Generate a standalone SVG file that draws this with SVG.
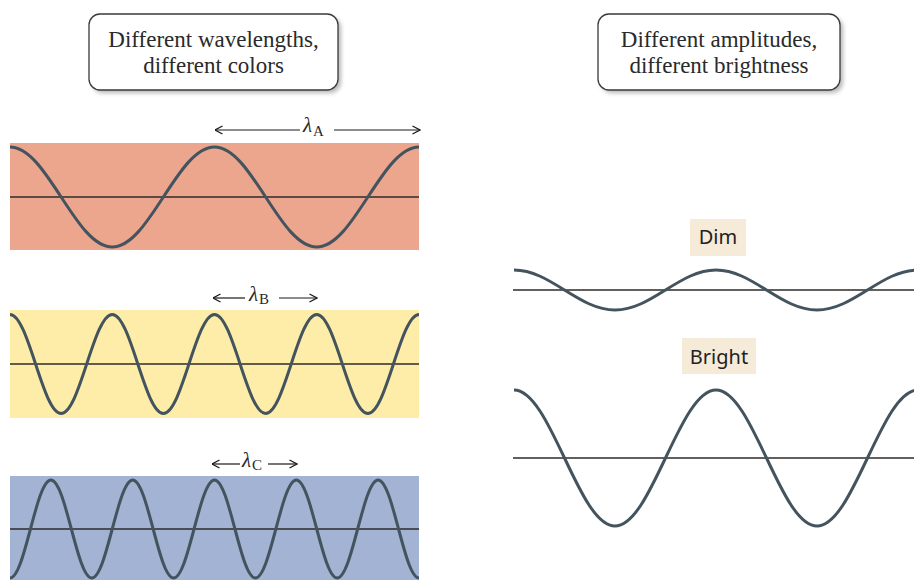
<svg xmlns="http://www.w3.org/2000/svg" width="914" height="580" viewBox="0 0 914 580">
<defs>
<style>
.title{font-family:"Liberation Serif","Times New Roman",serif;font-size:23px;fill:#2a2a2a;text-anchor:middle}
.lam{font-family:"Liberation Serif","Times New Roman",serif;font-size:21px;font-style:italic;fill:#2a2a2a}
.sub{font-style:normal;font-size:15px}
.lbl{font-family:"Noto Sans","Open Sans",sans-serif;font-size:20px;fill:#222;text-anchor:middle}
.box{fill:#fff;stroke:#3a3a3a;stroke-width:1.3}
.wave{fill:none;stroke:#43545f;stroke-width:3}
.axis{stroke:#2e2a2a;stroke-width:1.5}
.dim{stroke:#1a1a1a;stroke-width:1.2;fill:none}
.lblbg{fill:#f6ebd8}
</style>
<filter id="sh" x="-10%" y="-20%" width="130%" height="150%">
<feGaussianBlur stdDeviation="2"/>
</filter>
<marker id="arr" viewBox="0 0 10 10" refX="9.5" refY="5" markerWidth="10" markerHeight="10" markerUnits="userSpaceOnUse" orient="auto-start-reverse">
<path d="M2,1 L9.5,5 L2,9" fill="none" stroke="#1a1a1a" stroke-width="1.3"/>
</marker>
</defs>
<rect width="914" height="580" fill="#fff"/>

<g id="title-wavelengths">
<rect x="92" y="17" width="249" height="76" rx="11" fill="#888" opacity="0.6" filter="url(#sh)"/>
<rect class="box" x="89" y="14" width="249" height="76" rx="11"/>
<text class="title" x="213.5" y="47">Different wavelengths,</text>
<text class="title" x="213.5" y="73">different colors</text>
</g>

<g id="title-amplitudes">
<rect x="601" y="17" width="242" height="76" rx="11" fill="#888" opacity="0.6" filter="url(#sh)"/>
<rect class="box" x="598" y="14" width="242" height="76" rx="11"/>
<text class="title" x="719" y="47">Different amplitudes,</text>
<text class="title" x="719" y="73">different brightness</text>
</g>

<g id="panel-a">
<rect x="10" y="143" width="409" height="107" fill="#eda68e"/>
<line class="axis" x1="10" y1="197" x2="419" y2="197"/>
<path class="wave" d="M10,147 C47.22,147 75.03,247 112.25,247 S177.28,147 214.5,147 S279.53,247 316.75,247 S381.78,147 419,147"/>
<text class="lam" x="303" y="132">λ<tspan class="sub" dx="1" dy="4">A</tspan></text>
</g>

<g id="panel-b">
<rect x="10" y="310" width="409" height="108" fill="#fdeda8"/>
<line class="axis" x1="10" y1="364" x2="419" y2="364"/>
<path class="wave" d="M10,314.5 C28.61,314.5 42.52,413.5 61.13,413.5 S93.64,314.5 112.25,314.5 S144.77,413.5 163.38,413.5 S195.89,314.5 214.5,314.5 S247.02,413.5 265.63,413.5 S298.14,314.5 316.75,314.5 S349.27,413.5 367.88,413.5 S400.39,314.5 419,314.5"/>
<text class="lam" x="249" y="301">λ<tspan class="sub" dx="1" dy="3">B</tspan></text>
</g>

<g id="panel-c">
<rect x="10" y="476" width="409" height="104" fill="#a3b3d3"/>
<line class="axis" x1="10" y1="529" x2="419" y2="529"/>
<path class="wave" d="M10,578 C24.89,578 36.01,480 50.9,480 S76.91,578 91.8,578 S117.81,480 132.7,480 S158.71,578 173.6,578 S199.61,480 214.5,480 S240.51,578 255.4,578 S281.41,480 296.3,480 S322.31,578 337.2,578 S363.21,480 378.1,480 S404.11,578 419,578"/>
<text class="lam" x="242" y="467">λ<tspan class="sub" dx="1" dy="3">C</tspan></text>
</g>

<g id="dim">
<rect class="lblbg" x="690" y="219" width="56" height="37"/>
<text class="lbl" x="718" y="244">Dim</text>
<line class="axis" x1="513" y1="290" x2="914" y2="290"/>
<path class="wave" d="M514,270 C550.76,270 578.24,310 615,310 S679.24,270 716,270 S780.24,310 817,310 S881.24,270 918,270"/>
</g>

<g id="bright">
<rect class="lblbg" x="682" y="338" width="74" height="36"/>
<text class="lbl" x="719" y="364">Bright</text>
<line class="axis" x1="513" y1="458" x2="914" y2="458"/>
<path class="wave" d="M514,390 C550.76,390 578.24,526 615,526 S679.24,390 716,390 S780.24,526 817,526 S881.24,390 918,390"/>
</g>

<g id="connectors">
<line class="dim" x1="215" y1="130" x2="300" y2="130" marker-start="url(#arr)"/>
<line class="dim" x1="334" y1="130" x2="420" y2="130" marker-end="url(#arr)"/>
<line class="dim" x1="213" y1="298" x2="245" y2="298" marker-start="url(#arr)"/>
<line class="dim" x1="279" y1="298" x2="317" y2="298" marker-end="url(#arr)"/>
<line class="dim" x1="212" y1="464" x2="240" y2="464" marker-start="url(#arr)"/>
<line class="dim" x1="268" y1="464" x2="297" y2="464" marker-end="url(#arr)"/>
</g>
</svg>
